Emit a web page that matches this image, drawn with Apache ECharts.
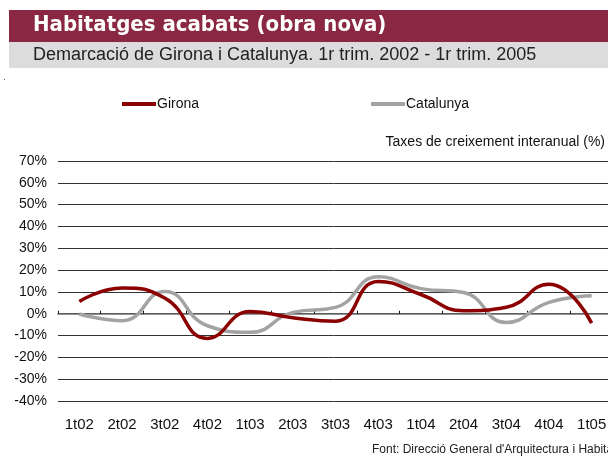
<!DOCTYPE html>
<html>
<head>
<meta charset="utf-8">
<script src="https://cdn.jsdelivr.net/npm/echarts@6/dist/echarts.min.js"></script>
<style>
  html, body { margin: 0; padding: 0; background: #fff; }
  #chart { width: 608px; height: 457px; }
</style>
</head>
<body>
<div id="chart"></div>
<script>
// dades: taxes de creixement interanual (%)
var trimestres = ['1t02','2t02','3t02','4t02','1t03','2t03','3t03','4t03','1t04','2t04','3t04','4t04','1t05'];
var girona    = [5.6, 11.8, 7.2, -11.3, 1.0, -1.8, -3.4, 14.8, 8.8, 1.4, 3.0, 13.5, -4.3];
var catalunya = [-0.1, -3.2, 10.2, -5.5, -8.5, 0.6, 2.9, 16.9, 11.5, 9.7, -4.0, 5.2, 8.2];
var yMin = -40, yMax = 70, yStep = 10;

var font = 'Liberation Sans';
var chart = echarts.init(document.getElementById('chart'));

var option = {
  animation: false,
  backgroundColor: '#fff',
  // capçalera
  graphic: [
    { type: 'rect', left: 9, top: 10, shape: { width: 599, height: 32 }, style: { fill: '#8a2743' } },
    { type: 'rect', left: 9, top: 42, shape: { width: 599, height: 26 }, style: { fill: '#dcdcdc' } },
    { type: 'text', left: 33, top: 14, style: { text: 'Habitatges acabats (obra nova)', fill: '#fff', font: 'bold 22px "DejaVu Sans Condensed", "DejaVu Sans"' } },
    { type: 'text', left: 33, top: 46, style: { text: 'Demarcació de Girona i Catalunya. 1r trim. 2002 - 1r trim. 2005', fill: '#222', font: '18px "Liberation Sans"' } },
    { type: 'rect', left: 4, top: 79, shape: { width: 1, height: 1 }, style: { fill: '#666' } },
    { type: 'text', right: 3, top: 135, style: { text: 'Taxes de creixement interanual (%)', fill: '#111', font: '14px "Liberation Sans"' } },
    { type: 'text', left: 372, top: 444, style: { text: "Font: Direcció General d'Arquitectura i Habitatge", fill: '#222', font: '12px "Liberation Sans"' } }
  ],
  legend: [
    { left: 117, top: 92, data: ['Girona'], icon: 'rect', itemWidth: 34, itemHeight: 4, itemGap: 0,
      textStyle: { fontFamily: font, fontSize: 14, color: '#111', padding: [0, 0, 0, -4] } },
    { left: 366, top: 92, data: ['Catalunya'], icon: 'rect', itemWidth: 34, itemHeight: 4, itemGap: 0,
      textStyle: { fontFamily: font, fontSize: 14, color: '#111', padding: [0, 0, 0, -4] } }
  ],
  grid: { left: 58, right: -5, top: 161, bottom: 56, outerBoundsMode: 'none', containLabel: false },
  xAxis: [
    {
      // etiquetes a baix
      type: 'category',
      data: trimestres,
      boundaryGap: true,
      position: 'bottom',
      axisLine: { show: false, onZero: false },
      axisTick: { show: false },
      axisLabel: { margin: 16, fontFamily: font, fontSize: 15, color: '#111' },
      splitLine: { show: false }
    },
    {
      // línia del zero amb marques
      type: 'category',
      data: trimestres,
      boundaryGap: true,
      position: 'top',
      axisLine: { show: true, onZero: true, lineStyle: { color: '#6e6e6e', width: 1.5 } },
      axisTick: { show: true, length: 3, lineStyle: { color: '#111' } },
      axisLabel: { show: false },
      splitLine: { show: false }
    }
  ],
  yAxis: {
    type: 'value',
    min: yMin,
    max: yMax,
    interval: yStep,
    axisLine: { show: false },
    axisTick: { show: false },
    axisLabel: { formatter: '{value}%', margin: 11, fontFamily: font, fontSize: 14, color: '#111' },
    splitLine: { lineStyle: { color: '#333', width: 1 } }
  },
  series: [
    {
      name: 'Girona',
      type: 'line',
      data: girona,
      smooth: 0.5,
      showSymbol: false,
      color: '#8b0000',
      lineStyle: { width: 3.5, color: '#8b0000' },
      z: 3
    },
    {
      name: 'Catalunya',
      type: 'line',
      data: catalunya,
      smooth: 0.5,
      showSymbol: false,
      color: '#a3a3a3',
      lineStyle: { width: 3.5, color: '#a3a3a3' },
      z: 2
    }
  ]
};

chart.setOption(option);
</script>
</body>
</html>
